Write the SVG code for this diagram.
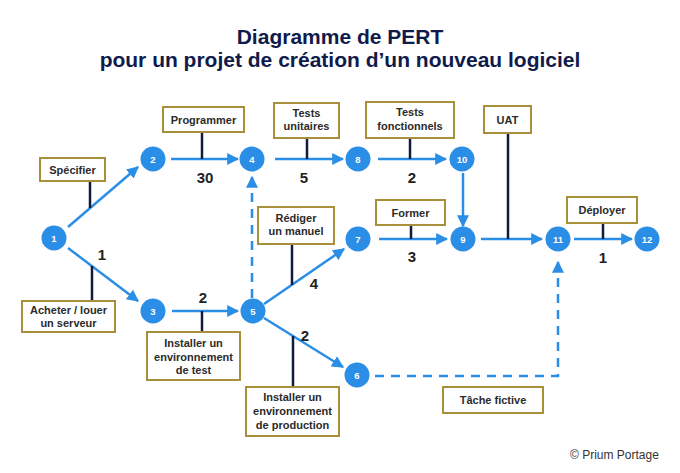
<svg xmlns="http://www.w3.org/2000/svg" width="680" height="473" viewBox="0 0 680 473">
<style>
.title{font-family:"Liberation Sans",Arial,sans-serif;font-weight:bold;font-size:21px;fill:#101b4b;text-anchor:middle}
.box{fill:#fff;stroke:#a8903a;stroke-width:2}
.bt{font-family:"Liberation Sans",Arial,sans-serif;font-weight:bold;font-size:11px;fill:#2b2b2b;text-anchor:middle}
.node{fill:#2b8ee6}
.nt{font-family:"Liberation Sans",Arial,sans-serif;font-weight:bold;font-size:9.5px;fill:#fff;text-anchor:middle}
.arr{stroke:#2b8ee6;stroke-width:2.5;fill:none}
.dash{stroke-dasharray:9 7}
.stem{stroke:#111a40;stroke-width:2.5}
.w{font-family:"Liberation Sans",Arial,sans-serif;font-weight:bold;font-size:15px;fill:#222;text-anchor:middle}
.copy{font-family:"Liberation Sans",Arial,sans-serif;font-size:12px;fill:#333}
</style>
<defs>
<marker id="ah" markerUnits="userSpaceOnUse" markerWidth="12" markerHeight="12" refX="9" refY="5" orient="auto" viewBox="0 0 10 10">
<path d="M0,0 L10,5 L0,10 z" fill="#2b8ee6"/>
</marker>
</defs>
<rect width="680" height="473" fill="#fff"/>
<text class="title" x="340" y="44">Diagramme de PERT</text>
<text class="title" x="340" y="67">pour un projet de création d’un nouveau logiciel</text>

<g id="connectors">
<line class="arr" x1="68" y1="227" x2="138" y2="167" marker-end="url(#ah)"/>
<line class="arr" x1="68" y1="248" x2="138" y2="301" marker-end="url(#ah)"/>
<line class="arr" x1="171" y1="159" x2="238" y2="159" marker-end="url(#ah)"/>
<line class="arr" x1="172" y1="311" x2="238" y2="311" marker-end="url(#ah)"/>
<line class="arr" x1="275" y1="159" x2="343" y2="159" marker-end="url(#ah)"/>
<line class="arr" x1="264" y1="304" x2="344" y2="249" marker-end="url(#ah)"/>
<line class="arr" x1="264" y1="318" x2="343" y2="367" marker-end="url(#ah)"/>
<line class="arr" x1="378" y1="159" x2="446" y2="159" marker-end="url(#ah)"/>
<line class="arr" x1="379" y1="239" x2="447" y2="239" marker-end="url(#ah)"/>
<line class="arr" x1="463" y1="173" x2="463" y2="226" marker-end="url(#ah)"/>
<line class="arr" x1="481" y1="239" x2="542" y2="239" marker-end="url(#ah)"/>
<line class="arr" x1="574" y1="239" x2="632" y2="239" marker-end="url(#ah)"/>
<line class="arr dash" x1="252" y1="298" x2="252" y2="177" marker-end="url(#ah)"/>
<path class="arr dash" d="M375,376 H558 V262" marker-end="url(#ah)"/>
</g>

<g id="stems">
<line class="stem" x1="90" y1="181" x2="90" y2="208"/>
<line class="stem" x1="202" y1="132" x2="202" y2="159"/>
<line class="stem" x1="307" y1="138" x2="307" y2="159"/>
<line class="stem" x1="292" y1="244" x2="292" y2="285"/>
<line class="stem" x1="92" y1="301" x2="92" y2="266"/>
<line class="stem" x1="202" y1="311" x2="202" y2="332"/>
<line class="stem" x1="293" y1="336" x2="293" y2="387"/>
<line class="stem" x1="410" y1="138" x2="410" y2="159"/>
<line class="stem" x1="411" y1="225" x2="411" y2="239"/>
<line class="stem" x1="508" y1="133" x2="508" y2="239"/>
<line class="stem" x1="603" y1="223" x2="603" y2="239"/>
</g>

<g id="weights">
<text class="w" x="205" y="183">30</text>
<text class="w" x="304" y="183">5</text>
<text class="w" x="412" y="183">2</text>
<text class="w" x="102" y="260">1</text>
<text class="w" x="314" y="289">4</text>
<text class="w" x="203" y="303">2</text>
<text class="w" x="305" y="341">2</text>
<text class="w" x="412" y="262">3</text>
<text class="w" x="603" y="263">1</text>
</g>

<g id="n1"><circle class="node" cx="54" cy="238" r="12.5"/><text class="nt" x="54" y="241.5">1</text></g>
<g id="n2"><circle class="node" cx="153" cy="159" r="12.5"/><text class="nt" x="153" y="162.5">2</text></g>
<g id="n3"><circle class="node" cx="153" cy="311" r="12.5"/><text class="nt" x="153" y="314.5">3</text></g>
<g id="n4"><circle class="node" cx="252" cy="159" r="12.5"/><text class="nt" x="252" y="162.5">4</text></g>
<g id="n5"><circle class="node" cx="253" cy="311" r="12.5"/><text class="nt" x="253" y="314.5">5</text></g>
<g id="n6"><circle class="node" cx="357" cy="375" r="12.5"/><text class="nt" x="357" y="378.5">6</text></g>
<g id="n7"><circle class="node" cx="358" cy="239" r="12.5"/><text class="nt" x="358" y="242.5">7</text></g>
<g id="n8"><circle class="node" cx="358" cy="159" r="12.5"/><text class="nt" x="358" y="162.5">8</text></g>
<g id="n9"><circle class="node" cx="463" cy="239" r="12.5"/><text class="nt" x="463" y="242.5">9</text></g>
<g id="n10"><circle class="node" cx="462" cy="159" r="12.5"/><text class="nt" x="462" y="162.5">10</text></g>
<g id="n11"><circle class="node" cx="558" cy="239" r="12.5"/><text class="nt" x="558" y="242.5">11</text></g>
<g id="n12"><circle class="node" cx="647" cy="239" r="12.5"/><text class="nt" x="647" y="242.5">12</text></g>

<g id="t-specifier"><rect class="box" x="40" y="158" width="65" height="23"/><text class="bt" x="72.5" y="173.5">Spécifier</text></g>
<g id="t-programmer"><rect class="box" x="163" y="107" width="81" height="25"/><text class="bt" x="203.5" y="123.5">Programmer</text></g>
<g id="t-tests-unitaires"><rect class="box" x="274" y="103" width="65" height="35"/><text class="bt" x="306.5" y="117">Tests</text><text class="bt" x="306.5" y="130">unitaires</text></g>
<g id="t-rediger"><rect class="box" x="258" y="207" width="76" height="37"/><text class="bt" x="296" y="221.5">Rédiger</text><text class="bt" x="296" y="235">un manuel</text></g>
<g id="t-acheter"><rect class="box" x="22" y="301" width="93" height="31"/><text class="bt" x="68.5" y="314">Acheter / louer</text><text class="bt" x="68.5" y="327">un serveur</text></g>
<g id="t-install-test"><rect class="box" x="147" y="332" width="93" height="48"/><text class="bt" x="193.5" y="347">Installer un</text><text class="bt" x="193.5" y="361">environnement</text><text class="bt" x="193.5" y="374">de test</text></g>
<g id="t-install-prod"><rect class="box" x="246" y="387" width="93" height="49"/><text class="bt" x="292.5" y="401">Installer un</text><text class="bt" x="292.5" y="415">environnement</text><text class="bt" x="292.5" y="428.5">de production</text></g>
<g id="t-tests-fonct"><rect class="box" x="366" y="102" width="88" height="36"/><text class="bt" x="410" y="116">Tests</text><text class="bt" x="410" y="129.5">fonctionnels</text></g>
<g id="t-former"><rect class="box" x="376" y="200" width="69" height="25"/><text class="bt" x="410.5" y="216.5">Former</text></g>
<g id="t-uat"><rect class="box" x="484" y="106" width="47" height="27"/><text class="bt" x="507.5" y="123.5">UAT</text></g>
<g id="t-deployer"><rect class="box" x="567" y="197" width="70" height="26"/><text class="bt" x="602" y="213.5">Déployer</text></g>
<g id="t-fictive"><rect class="box" x="443" y="387" width="100" height="26"/><text class="bt" x="493" y="403.5">Tâche fictive</text></g>

<text class="copy" x="570" y="459">© Prium Portage</text>
</svg>
